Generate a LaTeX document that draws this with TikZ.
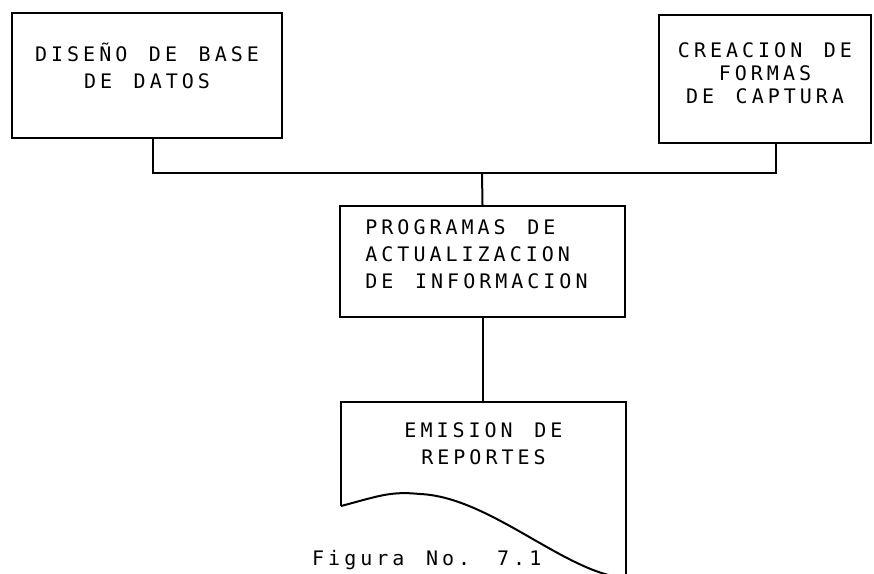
\documentclass[tikz,border=0pt]{standalone}
\usepackage{fontspec}
\newfontfamily\matrixfont{DejaVu Sans Mono}[LetterSpace=20, WordSpace={1.35,0,0}]
\tikzset{
	caja/.style={draw, line width=2pt, align=center, inner sep=0pt,
		font=\matrixfont\fontsize{20}{27}\selectfont},
	linea/.style={line width=2pt},
}
\begin{document}
\begin{tikzpicture}[x=1pt,y=-1pt]
	\useasboundingbox (0,0) rectangle (874,573);
	\node[caja, minimum width=270, minimum height=125, text depth=20pt] (diseno) at (147,75.5) {DISEÑO DE BASE\\DE DATOS};
	\node[caja, minimum width=212, minimum height=128, text depth=12pt, font=\matrixfont\fontsize{20}{23}\selectfont] (captura) at (765,79) {CREACION DE\\FORMAS\\DE CAPTURA};
	\node[caja, minimum width=285, minimum height=111, text depth=14pt, align=left] (programas) at (482.5,261.5) {PROGRAMAS DE\\ACTUALIZACION\\DE INFORMACION\hspace*{12pt}};
	\node[caja, draw=none, minimum width=283, minimum height=102, text depth=20pt] (reportes) at (483.5,454) {EMISION DE\\REPORTES};
	\coordinate (junta) at (482,173);
	\draw[linea] ([xshift=6pt]diseno.south) |- (junta) -| ([xshift=11pt]captura.south);
	\draw[linea] (junta) -- (programas.north);
	\draw[linea] (programas.south) -- (programas.south |- reportes.north);
	% hoja de reporte
	\draw[linea] (reportes.south west) -- (reportes.north west) -- (reportes.north east) -- ++(0,190);
	\draw[linea] (reportes.south west) .. controls +(38,-10) and +(-30,-3) .. (420,494)
		.. controls +(70,3) and +(-60,-5) .. (625,578);
	\node[anchor=north west, inner sep=0pt, font=\matrixfont\fontsize{20}{27}\selectfont] (pie) at (312,550) {Figura No. 7.1};
\end{tikzpicture}
\end{document}
